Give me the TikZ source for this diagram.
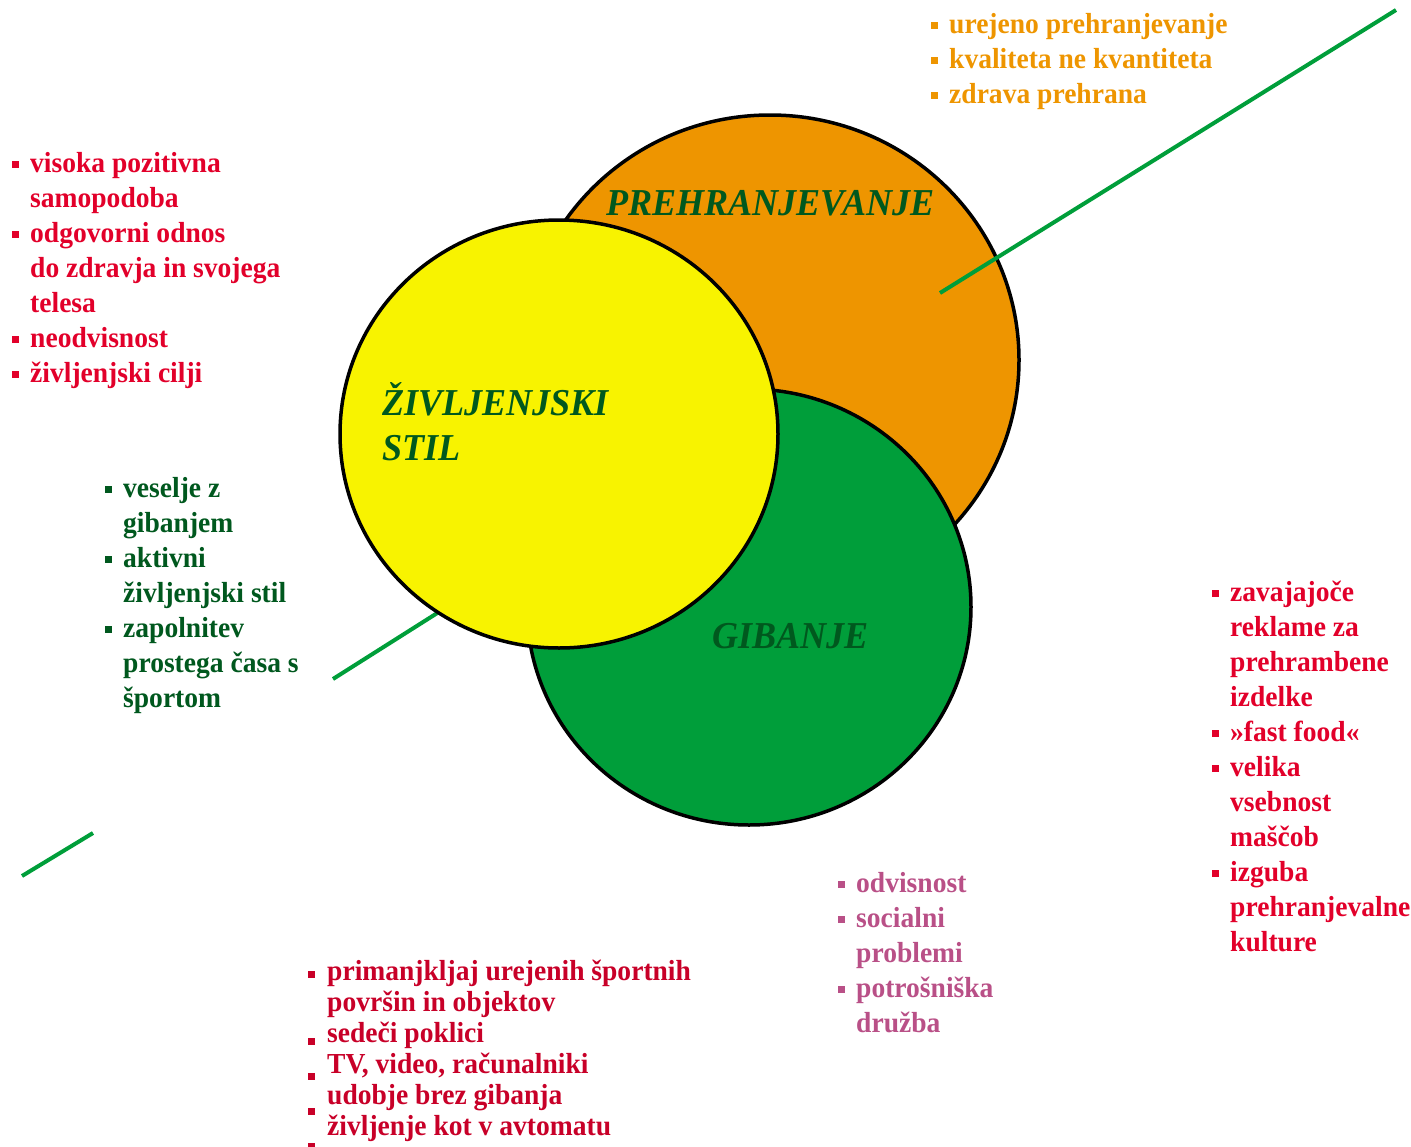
\documentclass[tikz,border=0pt]{standalone}
\usepackage{fontspec}
\setmainfont{Liberation Serif}[FakeStretch=0.95]
\definecolor{orng}{RGB}{238,149,0}
\definecolor{ylw}{RGB}{248,243,0}
\definecolor{grn}{RGB}{0,158,58}
\definecolor{dkgrn}{RGB}{0,88,30}
\definecolor{rd}{RGB}{226,0,42}
\definecolor{dkrd}{RGB}{200,0,40}
\definecolor{pnk}{RGB}{185,80,135}
\newcommand\blt{\llap{\rule[4pt]{7pt}{7pt}\hspace{11pt}}}
\tikzset{
  lst/.style={anchor=base west, inner sep=0pt, font=\fontsize{29}{35}\selectfont\bfseries},
  ttl/.style={anchor=base west, inner sep=0pt, text=dkgrn, font=\fontsize{38}{45}\selectfont\bfseries\itshape},
  krog/.style={draw=black, line width=3.5pt},
  crta/.style={draw=grn, line width=4pt}
}
\begin{document}
\begin{tikzpicture}[x=1pt, y=-1pt]
\useasboundingbox (0,0) rectangle (1411,1146);

% green line, lower part (behind the circles)
\coordinate (c1) at (22,876);
\coordinate (c2) at (93,833);
\coordinate (c3) at (333,679);
\coordinate (c4) at (480,586);
\coordinate (c5) at (940,293);
\coordinate (c6) at (1396,10);
\draw[crta] (c1) -- (c2);
\draw[crta] (c3) -- (c4);

% circles
\filldraw[krog, fill=orng] (770,360) ellipse [x radius=249pt, y radius=245pt];
\filldraw[krog, fill=grn] (749,607) ellipse [x radius=222pt, y radius=218pt];
\filldraw[krog, fill=ylw] (559,434) ellipse [x radius=219pt, y radius=214pt];

\draw[crta] (c5) -- (c6);

% titles
\node[ttl] (prehrana) at (606,215) {PREHRANJEVANJE};
\node[ttl] (stil1) at (382,415) {ŽIVLJENJSKI};
\node[ttl] (stil2) at (382,460) {STIL};
\node[ttl] (gibanje) at (712,648) {GIBANJE};

% lists
\foreach \t [count=\i from 0] in {{\blt urejeno prehranjevanje},{\blt kvaliteta ne kvantiteta},{\blt zdrava prehrana}}
  \node[lst, text=orng] (pr\i) at (949,{33+35*\i}) {\t};

\foreach \t [count=\i from 0] in {{\blt visoka pozitivna},samopodoba,{\blt odgovorni odnos},do zdravja in svojega,telesa,{\blt neodvisnost},{\blt življenjski cilji}}
  \node[lst, text=rd] (st\i) at (30,{172+35*\i}) {\t};

\foreach \t [count=\i from 0] in {{\blt veselje z},gibanjem,{\blt aktivni},življenjski stil,{\blt zapolnitev},prostega časa s,športom}
  \node[lst, text=dkgrn] (gb\i) at (123,{497+35*\i}) {\t};

\foreach \t [count=\i from 0] in {{\blt zavajajoče},reklame za,prehrambene,izdelke,{\blt »fast food«},{\blt velika},vsebnost,maščob,{\blt izguba},prehranjevalne,kulture}
  \node[lst, text=rd] (rk\i) at (1230,{601+35*\i}) {\t};

\foreach \t [count=\i from 0] in {{\blt odvisnost},{\blt socialni},problemi,{\blt potrošniška},družba}
  \node[lst, text=pnk] (dr\i) at (856,{892+35*\i}) {\t};

\foreach \t [count=\i from 0] in {primanjkljaj urejenih športnih,površin in objektov,sedeči poklici,{TV, video, računalniki},udobje brez gibanja,življenje kot v avtomatu}
  \node[lst, text=dkrd] (ov\i) at (327,{980+31*\i}) {\t};
\foreach \y in {971,1038,1073,1108,1143}
  \fill[dkrd] (308,\y) rectangle +(7,7);
\end{tikzpicture}
\end{document}
